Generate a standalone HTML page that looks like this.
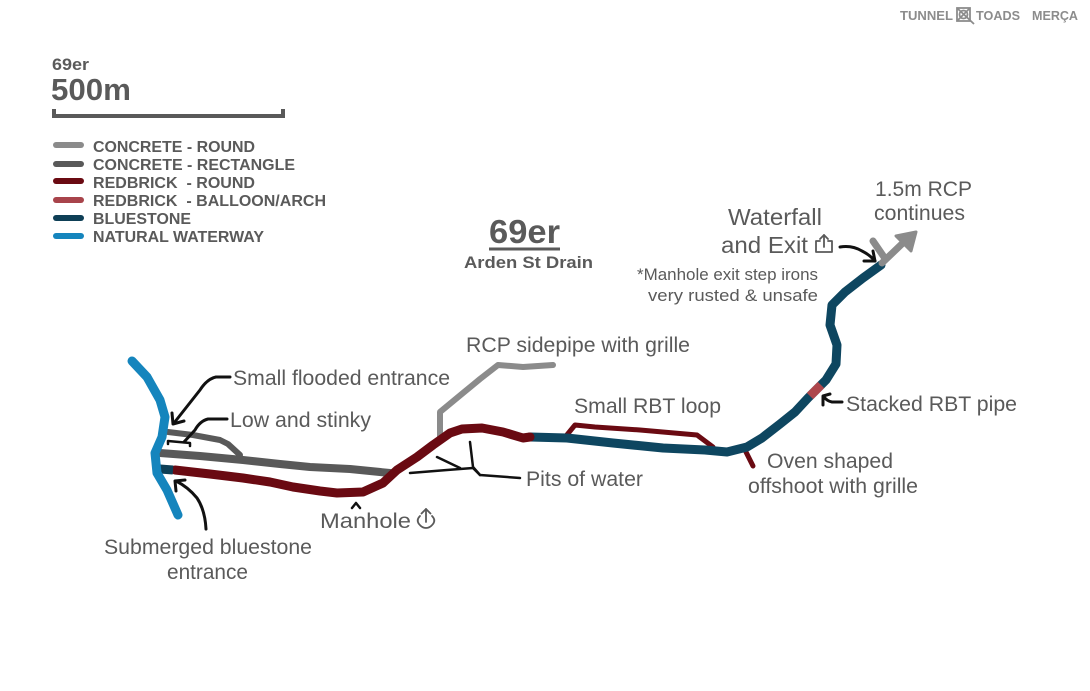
<!DOCTYPE html>
<html>
<head>
<meta charset="utf-8">
<style>
html,body{margin:0;padding:0;background:#ffffff;}
body{width:1090px;height:691px;overflow:hidden;}
svg{display:block;}
text{font-family:"Liberation Sans",Arial,sans-serif;fill:#5a5a5a;}
.b{font-weight:bold;}
.lbl{font-size:21px;}
</style>
</head>
<body>
<svg width="1090" height="691" viewBox="0 0 1090 691" xmlns="http://www.w3.org/2000/svg">
<rect width="1090" height="691" fill="#ffffff"/>

<!-- Header logo -->
<text x="900" y="20" class="b" font-size="13" style="fill:#8c8c8c" textLength="53" lengthAdjust="spacingAndGlyphs">TUNNEL</text>
<g stroke="#8c8c8c" stroke-width="1.8" fill="none">
  <rect x="957" y="8" width="13" height="13"/>
  <line x1="957" y1="8" x2="974" y2="24"/>
  <line x1="970" y1="8" x2="957" y2="21"/>
  <circle cx="963.5" cy="14.5" r="4"/>
</g>
<text x="976" y="20" class="b" font-size="13" style="fill:#8c8c8c" textLength="44" lengthAdjust="spacingAndGlyphs">TOADS</text>
<text x="1032" y="20" class="b" font-size="13" style="fill:#8c8c8c" textLength="46" lengthAdjust="spacingAndGlyphs">MERÇA</text>

<!-- Scale -->
<text x="52" y="70" class="b" font-size="17" textLength="37" lengthAdjust="spacingAndGlyphs">69er</text>
<text x="51" y="100" class="b" font-size="31" textLength="80" lengthAdjust="spacingAndGlyphs">500m</text>
<path d="M54 109 V116 H283 V109" stroke="#595959" stroke-width="4" fill="none"/>

<!-- Legend -->
<g stroke-width="6" stroke-linecap="round">
  <line x1="56" y1="145" x2="81" y2="145" stroke="#8b8b8b"/>
  <line x1="56" y1="164" x2="81" y2="164" stroke="#595959"/>
  <line x1="56" y1="181" x2="81" y2="181" stroke="#6a0a12"/>
  <line x1="56" y1="200" x2="81" y2="200" stroke="#a8444b"/>
  <line x1="56" y1="218" x2="81" y2="218" stroke="#0e3f56"/>
  <line x1="56" y1="236" x2="81" y2="236" stroke="#1585bd"/>
</g>
<g class="b" font-size="16">
  <text x="93" y="152" class="b" textLength="162" lengthAdjust="spacingAndGlyphs">CONCRETE - ROUND</text>
  <text x="93" y="170" class="b" textLength="202" lengthAdjust="spacingAndGlyphs">CONCRETE - RECTANGLE</text>
  <text x="93" y="188" class="b" textLength="162" lengthAdjust="spacingAndGlyphs" xml:space="preserve">REDBRICK  - ROUND</text>
  <text x="93" y="206" class="b" textLength="233" lengthAdjust="spacingAndGlyphs" xml:space="preserve">REDBRICK  - BALLOON/ARCH</text>
  <text x="93" y="224" class="b" textLength="98" lengthAdjust="spacingAndGlyphs">BLUESTONE</text>
  <text x="93" y="242" class="b" textLength="171" lengthAdjust="spacingAndGlyphs">NATURAL WATERWAY</text>
</g>

<!-- Title -->
<text x="489" y="243" class="b" font-size="33" textLength="71" lengthAdjust="spacingAndGlyphs">69er</text>
<line x1="489" y1="249" x2="560" y2="249" stroke="#5a5a5a" stroke-width="3"/>
<text x="464" y="268" class="b" font-size="17" textLength="129" lengthAdjust="spacingAndGlyphs">Arden St Drain</text>

<!-- Pipes -->
<g fill="none" stroke-linecap="round" stroke-linejoin="round">
  <!-- concrete round sidepipe -->
  <polyline points="440,436 440,412 463,393 480,379 498,365 523,367 553,365" stroke="#8b8b8b" stroke-width="6"/>
  <!-- concrete rectangle upper branch -->
  <polyline points="168,432 193,435 220,440 228,444 240,455" stroke="#595959" stroke-width="6"/>
  <!-- concrete rectangle main -->
  <polyline points="160,453 200,456 243,460 280,464 310,467 350,469 390,473" stroke="#595959" stroke-width="8"/>
  <!-- small RBT loop -->
  <polyline points="566,436 575,425 595,427 640,430 697,435 713,447" stroke="#6a0a12" stroke-width="5"/>
  <!-- oven offshoot -->
  <polyline points="744,448 753,466" stroke="#6a0a12" stroke-width="5"/>
  <!-- bluestone main -->
  <polyline points="530,437 567,438 613,443 663,448 705,450 727,452 747,447 762,438 780,424 795,412 808,398 815,391 826,380 836,364 837,345 830,325 832,305 845,292 863,278 881,265" stroke="#0e4660" stroke-width="9"/>
  <!-- balloon segment -->
  <polyline points="821,385 810,396" stroke="#ad464c" stroke-width="9" stroke-linecap="butt"/>
  <!-- redbrick main -->
  <polyline points="175,470 210,474 243,478 270,482 293,487 320,491 337,493 363,492 383,483 397,470 417,457 433,445 450,433 462,429 482,428 503,432 523,438 530,437" stroke="#6a0a12" stroke-width="9"/>
  <!-- submerged bluestone stub -->
  <polyline points="160,469 173,470" stroke="#0e3f56" stroke-width="9" stroke-linecap="butt"/>
  <!-- natural waterway -->
  <polyline points="132,361 147,377 160,400 165,417 162,437 155,453 157,473 167,490 178,515" stroke="#1585bd" stroke-width="9"/>
  <!-- exit RCP arrow -->
  <polyline points="873,241 884,257" stroke="#8b8b8b" stroke-width="7"/>
  <polyline points="882,263 906,240" stroke="#8b8b8b" stroke-width="7"/>
  <polygon points="916,232 896,236 911,251" fill="#8b8b8b" stroke="#8b8b8b" stroke-width="3"/>
</g>

<!-- Black annotation arrows -->
<g fill="none" stroke="#111" stroke-width="3" stroke-linecap="round" stroke-linejoin="round">
  <!-- small flooded entrance -->
  <path d="M230 377 L216 377 Q207 379 200 390 L174 423"/>
  <path d="M172 413 L173 424 L184 421"/>
  <!-- low and stinky -->
  <path d="M227 419 L208 419 Q200 421 195 430 L184 442"/>
  <path d="M168 444 L168 441 L190 443 L190 446" stroke-width="2.5"/>
  <!-- submerged -->
  <path d="M206 529 Q205 510 197 498 Q188 487 176 481"/>
  <path d="M176 491 L175 481 L185 480"/>
  <!-- manhole caret -->
  <path d="M352 508 L356 503 L360 508" stroke-width="2.5"/>
  <!-- pits of water -->
  <path d="M410 473 L447 470 L473 468 L480 475 L520 478" stroke-width="2.5"/>
  <path d="M437 457 L460 468" stroke-width="2.5"/>
  <path d="M470 442 L473 467 L480 475" stroke-width="2.5"/>
  <!-- waterfall and exit -->
  <path d="M840 247 Q852 245 862 251 Q870 255 875 261"/>
  <path d="M864 261 L875 261 L873 251"/>
  <!-- stacked RBT pipe -->
  <path d="M842 402 L832 402 Q827 401 824 397"/>
  <path d="M823 405 L823 396 L830 394"/>
</g>

<!-- Labels -->
<g class="lbl">
  <text x="233" y="385" class="lbl" textLength="217" lengthAdjust="spacingAndGlyphs">Small flooded entrance</text>
  <text x="230" y="427" class="lbl" textLength="141" lengthAdjust="spacingAndGlyphs">Low and stinky</text>
  <text x="466" y="352" class="lbl" textLength="224" lengthAdjust="spacingAndGlyphs">RCP sidepipe with grille</text>
  <text x="574" y="413" class="lbl" textLength="147" lengthAdjust="spacingAndGlyphs">Small RBT loop</text>
  <text x="526" y="486" class="lbl" textLength="117" lengthAdjust="spacingAndGlyphs">Pits of water</text>
  <text x="320" y="528" class="lbl" textLength="91" lengthAdjust="spacingAndGlyphs">Manhole</text>
  <text x="104" y="554" class="lbl" textLength="208" lengthAdjust="spacingAndGlyphs">Submerged bluestone</text>
  <text x="167" y="579" class="lbl" textLength="81" lengthAdjust="spacingAndGlyphs">entrance</text>
  <text x="767" y="468" class="lbl" textLength="126" lengthAdjust="spacingAndGlyphs">Oven shaped</text>
  <text x="748" y="493" class="lbl" textLength="170" lengthAdjust="spacingAndGlyphs">offshoot with grille</text>
  <text x="846" y="411" class="lbl" textLength="171" lengthAdjust="spacingAndGlyphs">Stacked RBT pipe</text>
  <text x="728" y="225" font-size="23" textLength="94" lengthAdjust="spacingAndGlyphs">Waterfall</text>
  <text x="721" y="253" font-size="23" textLength="87" lengthAdjust="spacingAndGlyphs">and Exit</text>
  <text x="637" y="280" font-size="17" textLength="181" lengthAdjust="spacingAndGlyphs">*Manhole exit step irons</text>
  <text x="648" y="301" font-size="17" textLength="170" lengthAdjust="spacingAndGlyphs">very rusted &amp; unsafe</text>
  <text x="875" y="196" class="lbl" textLength="97" lengthAdjust="spacingAndGlyphs">1.5m RCP</text>
  <text x="874" y="220" class="lbl" textLength="91" lengthAdjust="spacingAndGlyphs">continues</text>
</g>

<!-- Manhole icon -->
<g fill="none" stroke="#5a5a5a" stroke-width="1.8" stroke-linecap="round" stroke-linejoin="round">
  <path d="M426 522 V509"/>
  <path d="M421.5 513.5 L426 509 L430.5 513.5"/>
  <path d="M420 516 Q416 520 419 524 Q422 528 426 528 Q430 528 433 524 Q436 520 432 516"/>
</g>
<!-- Exit icon -->
<g fill="none" stroke="#5a5a5a" stroke-width="1.8" stroke-linecap="round" stroke-linejoin="round">
  <path d="M820 241 H816 V252 H832 V241 H828"/>
  <path d="M824 247 V235"/>
  <path d="M820 239 L824 235 L828 239"/>
</g>
</svg>
</body>
</html>
